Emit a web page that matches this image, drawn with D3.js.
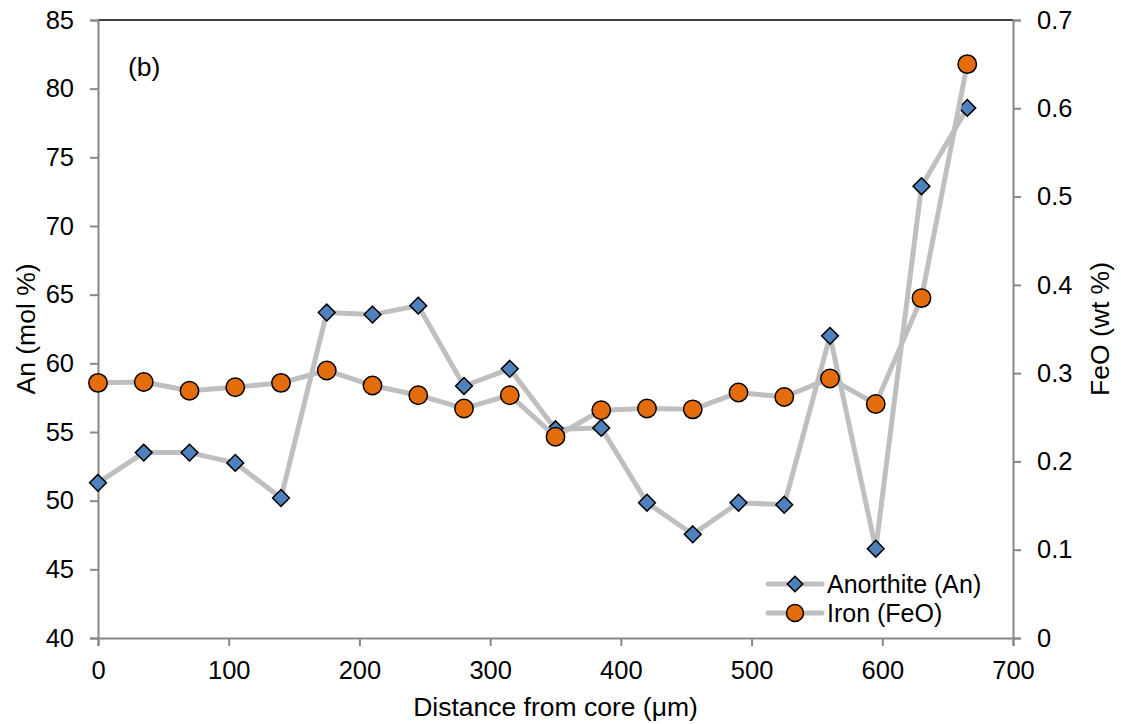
<!DOCTYPE html>
<html>
<head>
<meta charset="utf-8">
<script src="https://cdn.jsdelivr.net/npm/d3@7"></script>
<style>
  html, body { margin: 0; padding: 0; background: #fff; }
  svg { display: block; }
  text { font-family: "Liberation Sans", Arial, sans-serif; fill: #000; }
</style>
</head>
<body>
<svg id="chart" width="1121" height="724"></svg>
<script>
// ---- data ----
const distance = [0, 35, 70, 105, 140, 175, 210, 245, 280, 315, 350, 385, 420, 455, 490, 525, 560, 595, 630, 665];
const anorthite = [51.3, 53.5, 53.5, 52.75, 50.2, 63.7, 63.55, 64.2, 58.35, 59.6, 55.2, 55.3, 49.85, 47.55, 49.85, 49.7, 62.0, 46.5, 72.9, 78.6];
const feo = [0.289, 0.290, 0.280, 0.284, 0.289, 0.303, 0.286, 0.275, 0.260, 0.275, 0.228, 0.258, 0.260, 0.259, 0.278, 0.273, 0.294, 0.265, 0.385, 0.650];
const xTicks = [0, 100, 200, 300, 400, 500, 600, 700];
const yLeftTicks = [40, 45, 50, 55, 60, 65, 70, 75, 80, 85];
const yRightTicks = [0, 0.1, 0.2, 0.3, 0.4, 0.5, 0.6, 0.7];
const seriesNames = ["Anorthite (An)", "Iron (FeO)"];

// ---- layout ----
const L = 98, R = 1013, T = 20, B = 638;
const svg = d3.select("#chart");
const x = d3.scaleLinear().domain([0, 700]).range([L, R]);
const yL = d3.scaleLinear().domain([40, 85]).range([B, T]);
const yR = d3.scaleLinear().domain([0, 0.7]).range([B, T]);

const axisColor = "#888888";
const lineColor = "#BFBFBF";
const blue = "#4F81BD";
const orange = "#E46C0A";
const tickFont = 25.5;
const titleFont = 26.5;
const legendFont = 25;

// top border
svg.append("line").attr("x1", L).attr("x2", R).attr("y1", T).attr("y2", T)
  .attr("stroke", "#000").attr("stroke-width", 1.5);

function styleAxis(g) {
  g.select(".domain").attr("stroke", axisColor).attr("stroke-width", 2);
  g.selectAll(".tick line").attr("stroke", axisColor).attr("stroke-width", 2);
  g.selectAll(".tick text").attr("font-size", tickFont)
    .attr("font-family", "Liberation Sans, Arial, sans-serif").attr("fill", "#000");
}

const gx = svg.append("g").attr("transform", `translate(0,${B})`)
  .call(d3.axisBottom(x).tickValues(xTicks).tickSizeOuter(0).tickSize(8).tickPadding(15).tickFormat(d3.format("d")));
styleAxis(gx);

const gyl = svg.append("g").attr("transform", `translate(${L},0)`)
  .call(d3.axisLeft(yL).tickValues(yLeftTicks).tickSizeOuter(0).tickSize(8).tickPadding(16).tickFormat(d3.format("d")));
styleAxis(gyl);

const gyr = svg.append("g").attr("transform", `translate(${R},0)`)
  .call(d3.axisRight(yR).tickValues(yRightTicks).tickSizeOuter(0).tickSize(8).tickPadding(16)
    .tickFormat(d => d === 0 ? "0" : d3.format(".1f")(d)));
styleAxis(gyr);

// axis titles
svg.append("text").attr("x", (L + R) / 2).attr("y", 716).attr("text-anchor", "middle")
  .attr("font-size", titleFont).text("Distance from core (μm)");
svg.append("text").attr("transform", `translate(35,${(T + B) / 2}) rotate(-90)`)
  .attr("text-anchor", "middle").attr("font-size", titleFont).text("An (mol %)");
svg.append("text").attr("transform", `translate(1109,${(T + B) / 2}) rotate(-90)`)
  .attr("text-anchor", "middle").attr("font-size", titleFont).text("FeO (wt %)");

// panel label
svg.append("text").attr("x", 128).attr("y", 76).attr("font-size", titleFont).text("(b)");

// ---- series ----
const anData = distance.map((d, i) => ({ x: d, y: anorthite[i] }));
const feData = distance.map((d, i) => ({ x: d, y: feo[i] }));

const diamond = d3.symbol().type(d3.symbolDiamond2).size(180);

svg.append("path").datum(anData)
  .attr("d", d3.line().x(d => x(d.x)).y(d => yL(d.y)))
  .attr("fill", "none").attr("stroke", lineColor).attr("stroke-width", 5).attr("stroke-linejoin", "round");
svg.append("g").selectAll("path").data(anData).join("path")
  .attr("d", diamond)
  .attr("transform", d => `translate(${x(d.x)},${yL(d.y)})`)
  .attr("fill", blue).attr("stroke", "#000").attr("stroke-width", 1.5);

svg.append("path").datum(feData)
  .attr("d", d3.line().x(d => x(d.x)).y(d => yR(d.y)))
  .attr("fill", "none").attr("stroke", lineColor).attr("stroke-width", 5).attr("stroke-linejoin", "round");
svg.append("g").selectAll("circle").data(feData).join("circle")
  .attr("cx", d => x(d.x)).attr("cy", d => yR(d.y)).attr("r", 9.2)
  .attr("fill", orange).attr("stroke", "#000").attr("stroke-width", 1.5);

// ---- legend ----
const legendRows = [
  { name: seriesNames[0], y: 584, type: "diamond", color: blue },
  { name: seriesNames[1], y: 613, type: "circle", color: orange }
];
const lg = svg.append("g");
legendRows.forEach(r => {
  lg.append("line").attr("x1", 768).attr("x2", 822).attr("y1", r.y).attr("y2", r.y)
    .attr("stroke", lineColor).attr("stroke-width", 5).attr("stroke-linecap", "round");
  if (r.type === "diamond") {
    lg.append("path").attr("d", d3.symbol().type(d3.symbolDiamond2).size(150))
      .attr("transform", `translate(795,${r.y})`)
      .attr("fill", r.color).attr("stroke", "#000").attr("stroke-width", 1.5);
  } else {
    lg.append("circle").attr("cx", 795).attr("cy", r.y).attr("r", 8.5)
      .attr("fill", r.color).attr("stroke", "#000").attr("stroke-width", 1.5);
  }
  lg.append("text").attr("x", 827).attr("y", r.y).attr("dy", "0.35em")
    .attr("font-size", legendFont).text(r.name);
});
</script>
</body>
</html>
